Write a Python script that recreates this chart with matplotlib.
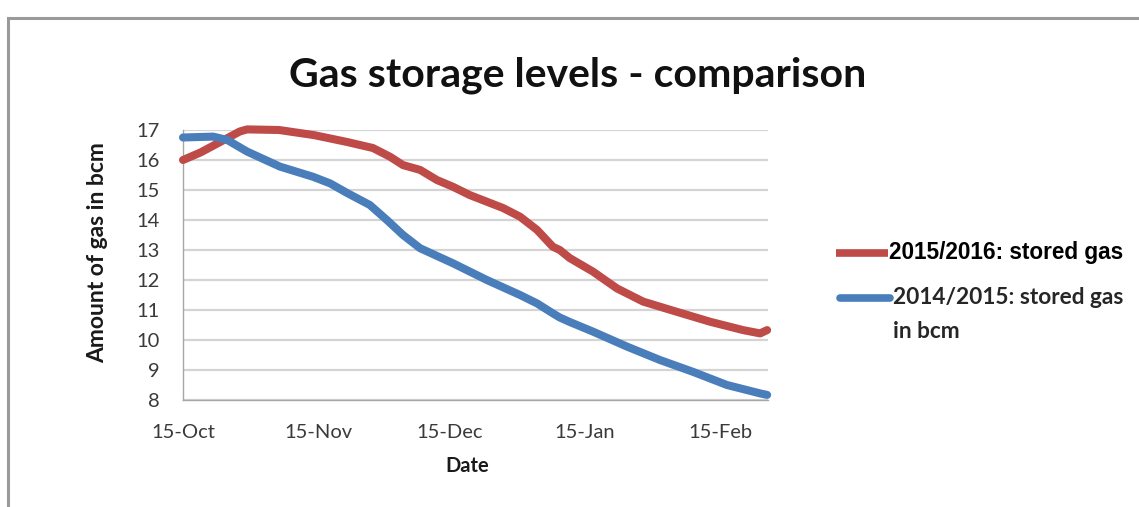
import matplotlib
matplotlib.use("Agg")
import matplotlib.pyplot as plt
from matplotlib.lines import Line2D

# ---- data (days since 15 Oct) ----
days_1516 = [0, 4, 8.5, 13, 14.7, 22, 30, 37.6, 43.5, 47.4, 50.4, 54.3, 58.2, 61.8, 65.7,
             73.3, 77.2, 81.1, 84.7, 86.3, 88.6, 93.9, 99.4, 105.4, 113.1, 120.7, 128.3, 132.2, 133.8]
gas_1516 = [16.0, 16.25, 16.6, 16.95, 17.02, 17.0, 16.83, 16.6, 16.4, 16.11, 15.83, 15.67, 15.33, 15.11, 14.83,
            14.4, 14.11, 13.67, 13.11, 13.0, 12.73, 12.28, 11.72, 11.28, 10.94, 10.61, 10.33, 10.22, 10.33]

days_1415 = [0, 6.9, 10.1, 14.7, 22.2, 29.8, 33.7, 37.6, 42.8, 46.7, 50.4, 54.3, 61.8, 69.6,
             77.2, 81.1, 84.7, 86.3, 88.6, 93.9, 101.7, 109.3, 116.8, 124.6, 132.2, 133.8]
gas_1415 = [16.75, 16.78, 16.67, 16.28, 15.78, 15.44, 15.22, 14.9, 14.5, 14.0, 13.5, 13.06, 12.56, 12.0,
            11.5, 11.22, 10.89, 10.75, 10.6, 10.28, 9.78, 9.33, 8.94, 8.5, 8.22, 8.17]

tick_days = [0, 31, 61, 92, 123]
tick_labels = ["15-Oct", "15-Nov", "15-Dec", "15-Jan", "15-Feb"]
y_ticks = [8, 9, 10, 11, 12, 13, 14, 15, 16, 17]

label_1516 = "2015/2016: stored gas"
label_1415 = "2014/2015: stored gas\nin bcm"

RED = "#BE4B48"
BLUE = "#4A7EBB"
FONT = ["Lato", "DejaVu Sans"]

W, H = 1139, 507
fig = plt.figure(figsize=(W / 100, H / 100), dpi=100)
fig.patch.set_facecolor("white")

ax = fig.add_axes([183 / W, (H - 400) / H, 585 / W, 270 / H])
ax.plot(days_1516, gas_1516, color=RED, lw=5.8, solid_capstyle="round",
        solid_joinstyle="round", clip_on=False, zorder=3)
ax.plot(days_1415, gas_1415, color=BLUE, lw=5.8, solid_capstyle="round",
        solid_joinstyle="round", clip_on=False, zorder=3)

ax.set_xlim(0, 134)
ax.set_ylim(8, 17)
ax.set_yticks(y_ticks)
ax.set_yticklabels([str(v) for v in y_ticks], fontfamily=FONT, fontsize=14.5, color="#3a3a3a")
ax.set_xticks(tick_days)
ax.set_xticklabels(tick_labels, fontfamily=FONT, fontsize=14.5, color="#3a3a3a")
ax.tick_params(axis="y", length=0, pad=17)
ax.tick_params(axis="x", length=0, pad=17)
ax.grid(axis="y", color="#D4D4D4", lw=1.6, zorder=0)
ax.grid(axis="x", visible=False)
for s in ["top", "right"]:
    ax.spines[s].set_visible(False)
for s in ["left", "bottom"]:
    ax.spines[s].set_color("#A6A6A6")
    ax.spines[s].set_linewidth(1.0)

ax.set_xlabel("Date", fontfamily=FONT, fontsize=14.5, fontweight="bold", color="#1a1a1a")
ax.xaxis.set_label_coords((467 - 183) / 585, -(466 - 400) / 270)
ax.xaxis.label.set_verticalalignment("center")
ax.set_ylabel("Amount of gas in bcm", fontfamily=FONT, fontsize=16.5, fontweight="bold", color="#1a1a1a")
ax.yaxis.set_label_coords((98 - 183) / 585, (400 - 253) / 270)
ax.yaxis.label.set_verticalalignment("center")

fig.text(578 / W, (H - 86) / H, "Gas storage levels - comparison", fontfamily=FONT,
         fontsize=29.5, fontweight="bold", ha="center", va="baseline", color="#111111")

# legend (manual placement)
fig.add_artist(Line2D([836 / W, 888 / W], [(H - 253) / H] * 2, color=RED, lw=5.5,
                      solid_capstyle="butt"))
fig.text(889 / W, (H - 253) / H, label_1516, fontfamily=["Liberation Sans", "DejaVu Sans"],
         fontsize=16.3, fontweight="bold", ha="left", va="center", color="black")
fig.add_artist(Line2D([840 / W, 890 / W], [(H - 298) / H] * 2, color=BLUE, lw=5.5,
                      solid_capstyle="round"))
fig.text(893 / W, (H - 287) / H, label_1415, fontfamily=FONT,
         fontsize=16.3, fontweight="bold", ha="left", va="top", color="#262626", linespacing=1.75)

# outer frame
fig.add_artist(Line2D([8 / W, 1.0], [(H - 18) / H] * 2, color="#9A9A9A", lw=2.2))
fig.add_artist(Line2D([8 / W, 8 / W], [0, (H - 18) / H], color="#9A9A9A", lw=2.2))

fig.savefig("out.png", dpi=100, facecolor="white")
